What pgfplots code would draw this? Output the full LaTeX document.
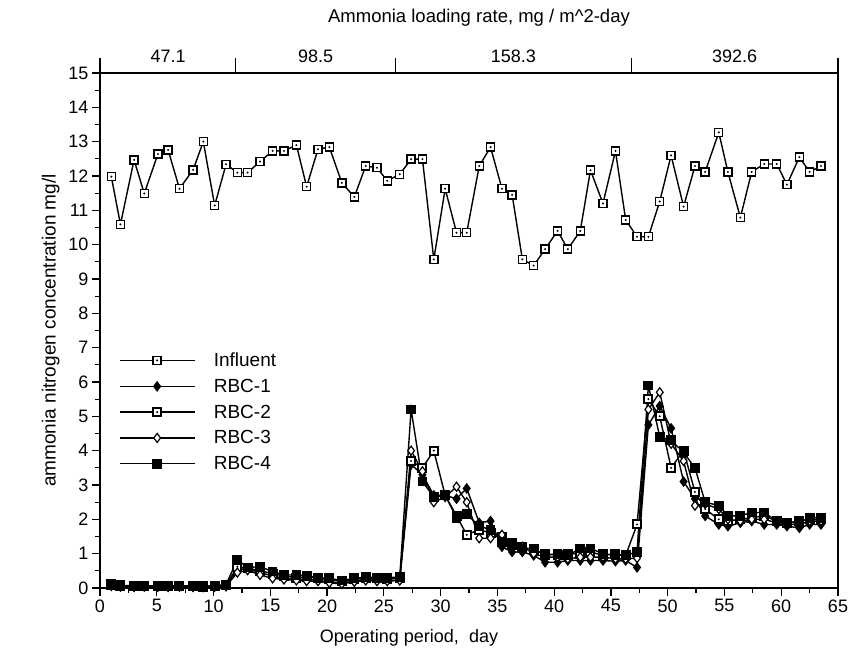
\documentclass[border=0pt]{standalone}
\usepackage{fontspec}
\setmainfont{Liberation Sans}
\usepackage{pgfplots}
\usepackage{pgfplotstable}
\pgfplotsset{compat=1.18}

% open square with a dot in the middle
\pgfdeclareplotmark{sqdot}{%
  \pgfpathrectangle{\pgfpoint{-\pgfplotmarksize}{-\pgfplotmarksize}}{\pgfpoint{2\pgfplotmarksize}{2\pgfplotmarksize}}%
  \pgfusepathqfillstroke
  \begin{pgfscope}%
  \pgfsetfillcolor{black}%
  \pgfpathcircle{\pgfpointorigin}{0.28\pgfplotmarksize}%
  \pgfusepathqfill
  \end{pgfscope}}

\pgfplotstableread{
day  infl   r1    r2    r3    r4
1.0  11.98  0.08  0.10  0.06  0.12
1.8  10.59  0.05  0.06  0.04  0.08
3.0  12.47  0.04  0.05  0.03  0.06
3.9  11.49  0.05  0.05  0.04  0.06
5.1  12.64  0.05  0.06  0.04  0.07
6.0  12.76  0.04  0.05  0.03  0.06
7.0  11.63  0.05  0.05  0.04  0.07
8.2  12.18  0.04  0.05  0.03  0.06
9.1  13.00  0.03  0.04  0.03  0.05
10.1 11.14  0.05  0.05  0.04  0.07
11.1 12.34  0.06  0.08  0.05  0.10
12.1 12.10  0.55  0.62  0.45  0.82
13.0 12.10  0.55  0.58  0.52  0.60
14.1 12.42  0.45  0.50  0.38  0.62
15.2 12.73  0.35  0.42  0.28  0.48
16.2 12.73  0.28  0.35  0.25  0.38
17.3 12.90  0.25  0.30  0.22  0.38
18.2 11.69  0.25  0.32  0.20  0.36
19.2 12.78  0.22  0.28  0.20  0.30
20.2 12.84  0.18  0.25  0.15  0.28
21.3 11.80  0.15  0.20  0.12  0.22
22.4 11.39  0.20  0.25  0.18  0.28
23.4 12.29  0.25  0.28  0.22  0.32
24.4 12.24  0.22  0.28  0.20  0.30
25.3 11.86  0.22  0.27  0.20  0.30
26.4 12.05  0.23  0.28  0.22  0.32
27.4 12.49  3.60  3.70  4.00  5.20
28.4 12.49  3.30  3.50  3.40  3.10
29.4 9.57   2.70  4.00  2.50  2.65
30.4 11.63  2.70  2.70  2.65  2.70
31.4 10.35  2.60  2.10  2.95  2.05
32.3 10.35  2.90  1.55  2.50  2.15
33.4 12.29  1.90  1.70  1.45  1.80
34.4 12.84  1.95  1.60  1.45  1.70
35.4 11.63  1.20  1.50  1.55  1.35
36.3 11.45  1.05  1.30  1.20  1.25
37.2 9.57   1.05  1.20  1.20  1.15
38.2 9.39   0.95  1.10  1.00  1.15
39.2 9.87   0.75  1.00  0.90  0.95
40.3 10.40  0.75  0.95  0.90  1.00
41.2 9.87   0.80  1.00  0.85  0.95
42.3 10.40  0.80  1.00  0.90  1.15
43.2 12.17  0.80  1.05  0.90  1.15
44.3 11.20  0.80  0.95  0.90  1.00
45.4 12.73  0.78  1.00  0.85  0.95
46.3 10.72  0.80  0.95  0.85  0.95
47.3 10.23  0.60  1.85  0.87  1.05
48.3 10.23  4.75  5.50  5.20  5.90
49.3 11.26  5.30  5.00  5.70  4.40
50.3 12.60  4.65  3.50  4.20  4.30
51.4 11.11  3.10  4.00  3.70  3.95
52.4 12.29  2.60  2.80  2.40  3.50
53.3 12.12  2.10  2.30  2.45  2.50
54.5 13.27  1.85  2.00  2.30  2.40
55.3 12.12  1.80  1.95  2.00  2.10
56.4 10.79  1.90  2.00  1.95  2.10
57.4 12.12  1.95  2.05  2.00  2.20
58.5 12.35  1.85  2.10  2.00  2.20
59.6 12.35  1.85  1.95  1.90  1.95
60.5 11.75  1.80  1.90  1.85  1.90
61.6 12.55  1.75  1.95  1.85  1.90
62.5 12.12  1.85  2.00  1.95  2.05
63.5 12.29  1.85  2.00  1.95  2.05
}\data

\begin{document}
\begin{tikzpicture}
\begin{axis}[name=main,
  width=738pt, height=515pt, scale only axis,
  xmin=0, xmax=65, ymin=0, ymax=15,
  xtick={0,5,...,65}, ytick={0,1,...,15},
  minor x tick num=1, minor y tick num=1,
  xtick pos=left, ytick pos=left,
  tick align=outside,
  major tick length=8pt, minor tick length=5pt,
  every tick/.style={black, line width=1.2pt},
  axis line style={line width=1.5pt},
  ticklabel style={font=\fontsize{18}{18}\selectfont},
  /pgf/number format/assume math mode=true,
  xlabel={Operating period,\ \ day},
  ylabel={ammonia nitrogen concentration mg/l},
  label style={font=\fontsize{18}{18}\selectfont},
  xlabel style={yshift=-10pt, xshift=-60pt},
  ylabel style={font=\fontsize{19}{19}\selectfont, yshift=2pt},
  legend cell align=left,
  legend image code/.code={\draw[mark repeat=2,mark phase=2,#1] plot coordinates {(0pt,0pt) (37pt,0pt) (75pt,0pt)};},
  legend style={draw=none, fill=none, at={(rel axis cs:0.022,0.465)}, anchor=north west,
    font=\fontsize{19}{19}\selectfont, row sep=7pt,
    /tikz/every odd column/.append style={column sep=16pt}},
]
\addplot[black, line width=1.4pt, mark=sqdot, mark size=4pt, mark options={fill=white, line width=1.4pt, solid}] table[x=day, y=infl] {\data};
\addlegendentry{Influent}
\addplot[black, line width=1.4pt, mark=diamond*, mark size=4.5pt, mark options={fill=black, line width=1.2pt, solid}] table[x=day, y=r1] {\data};
\addlegendentry{RBC-1}
\addplot[black, line width=1.4pt, mark=sqdot, mark size=4pt, mark options={fill=white, line width=2pt, solid}] table[x=day, y=r2] {\data};
\addlegendentry{RBC-2}
\addplot[black, line width=1.4pt, mark=diamond*, mark size=4.5pt, mark options={fill=white, line width=1.2pt, solid}] table[x=day, y=r3] {\data};
\addlegendentry{RBC-3}
\addplot[black, line width=1.4pt, mark=square*, mark size=4.3pt, mark options={fill=black, line width=1.2pt, solid}] table[x=day, y=r4] {\data};
\addlegendentry{RBC-4}
\end{axis}

\begin{axis}[
  width=738pt, height=515pt, scale only axis,
  xmin=0, xmax=65, ymin=0, ymax=15,
  hide y axis, axis x line*=top,
  axis line style={line width=1.5pt},
  xtick={6,19,36.4,55.9},
  xticklabels={47.1,98.5,158.3,392.6},
  major tick length=0pt,
  xticklabel style={font=\fontsize{18}{18}\selectfont, yshift=7pt},
  extra x ticks={0,11.9,26,46.8,65},
  extra x tick labels={},
  extra x tick style={major tick length=15pt, tick align=outside,
    every tick/.style={black, line width=1.2pt}},
  xlabel={Ammonia loading rate, mg / m\textasciicircum 2-day},
  xlabel style={font=\fontsize{18.5}{18.5}\selectfont, yshift=2pt, xshift=10pt},
]
\end{axis}

\pgfresetboundingbox
\path ([shift={(-100pt,-79pt)}]main.south west) rectangle ([shift={(12pt,73pt)}]main.north east);
\end{tikzpicture}
\end{document}
